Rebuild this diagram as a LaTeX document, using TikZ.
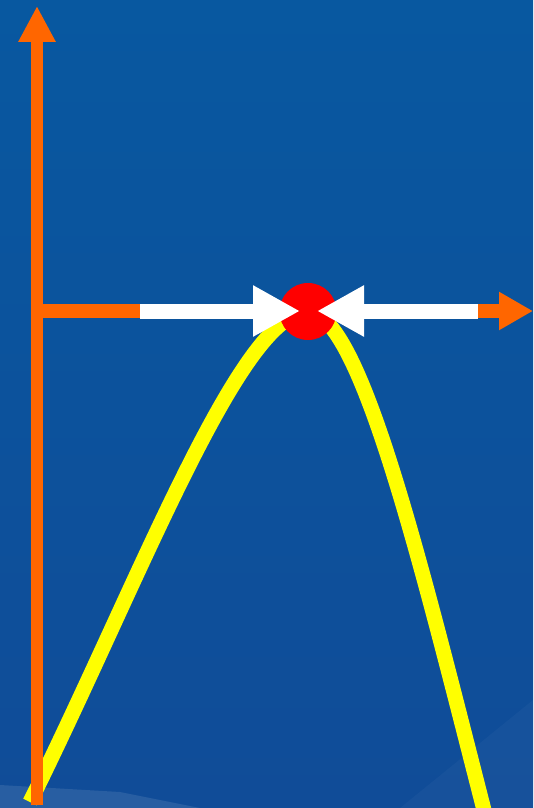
\documentclass[tikz,border=0pt]{standalone}
\usetikzlibrary{arrows.meta}
\definecolor{bgtop}{RGB}{8,88,160}
\definecolor{bgmid}{RGB}{12,82,156}
\definecolor{bgbot}{RGB}{16,76,152}
\definecolor{axorange}{RGB}{255,102,0}
\definecolor{curveyellow}{RGB}{255,255,0}
\definecolor{dotred}{RGB}{255,0,0}
\tikzset{
  axisline/.style={draw=axorange, line width=12pt},
  haxisline/.style={draw=axorange, line width=14pt},
  whitearrow/.style={draw=white, line width=15pt, -{Triangle[length=47pt,width=48pt]}},
  curveline/.style={draw=curveyellow, line width=15pt, line cap=butt},
  reddot/.style={circle, fill=dotred, minimum size=57pt, inner sep=0pt}
}
\begin{document}
\begin{tikzpicture}[x=1pt,y=-1pt]
\useasboundingbox (0,0) rectangle (533,808);
\shade[top color=bgtop, middle color=bgmid, bottom color=bgbot] (0,0) rectangle (533,808);
\fill[white, opacity=0.10] (0,785) -- (120,792) -- (200,808) -- (0,808) -- cycle;
\fill[white, opacity=0.03] (400,808) -- (533,700) -- (533,808) -- cycle;
% curve
\coordinate (cstart) at (30,802);
\coordinate (peak) at (308,312);
\coordinate (cend) at (484,810);
\draw[curveline] (cstart) .. controls (140,580) and (240,312) .. (peak)
                 .. controls (360,312) and (420,560) .. (cend);
% axes
\coordinate (origin) at (37,805);
\coordinate (ytop) at (37,6);
\coordinate (hstart) at (37,311);
\coordinate (xend) at (533,311);
\draw[axisline, -{Triangle[length=36pt,width=35pt]}] (origin) -- (ytop);
\draw[haxisline, -{Triangle[length=34pt,width=36pt]}] (hstart) -- (xend);
% red dot
\node[reddot] (dot) at (308,311.5) {};
% white arrows
\coordinate (wl) at (140,311);
\coordinate (wltip) at (300,311);
\coordinate (wr) at (478,311);
\coordinate (wrtip) at (317,311);
\draw[whitearrow] (wl) -- (wltip);
\draw[whitearrow] (wr) -- (wrtip);
\end{tikzpicture}
\end{document}
